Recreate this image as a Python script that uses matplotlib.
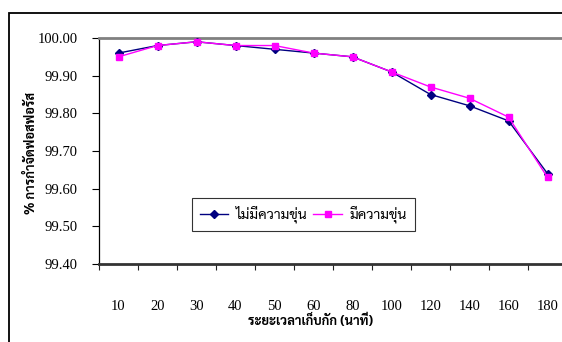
import matplotlib
matplotlib.use('Agg')
import matplotlib.pyplot as plt
from matplotlib.patches import Rectangle

# detention time (minutes) and phosphorus removal (%)
times = ['10', '20', '30', '40', '50', '60', '80', '100', '120', '140', '160', '180']
no_turbidity = [99.96, 99.98, 99.99, 99.98, 99.97, 99.96, 99.95, 99.91, 99.85, 99.82, 99.78, 99.64]
turbidity = [99.95, 99.98, 99.99, 99.98, 99.98, 99.96, 99.95, 99.91, 99.87, 99.84, 99.79, 99.63]
y_ticks = [99.40, 99.50, 99.60, 99.70, 99.80, 99.90, 100.00]

num_font = 'Liberation Serif'
thai_font = ['Sarabun', 'DejaVu Sans']

fig = plt.figure(figsize=(5.62, 3.42), dpi=100)
ax = fig.add_axes([99 / 562, 1 - 264 / 342, 468 / 562, 226 / 342])

x = list(range(len(times)))
ax.plot(x, no_turbidity, color='#000080', marker='D', markersize=4.5, lw=1,
        label='ไม่มีความขุ่น', zorder=3)
ax.plot(x, turbidity, color='#FF00FF', marker='s', markersize=5, lw=1,
        label='มีความขุ่น', zorder=4)

ax.set_xlim(-0.5, len(times) - 0.5)
ax.set_ylim(99.40, 100.00)

# category ticks sit between the labels
ax.set_xticks([i - 0.5 for i in range(len(times) + 1)])
ax.set_xticklabels([])
ax.set_xticks(x, minor=True)
ax.set_xticklabels(times, minor=True, fontfamily=num_font, fontsize=10.5)
ax.tick_params(axis='x', which='major', direction='out', length=4.5, width=0.8, color='#222222')
ax.tick_params(axis='x', which='minor', length=0, pad=26)

ax.set_yticks(y_ticks)
ax.set_yticklabels(['%.2f' % v for v in y_ticks], fontfamily=num_font, fontsize=10.5)
ax.tick_params(axis='y', direction='out', length=5, width=0.8, pad=10.5)

ax.spines['right'].set_visible(False)
ax.spines['top'].set_color('#808080')
ax.spines['top'].set_linewidth(2)
ax.spines['bottom'].set_color('#333333')
ax.spines['bottom'].set_linewidth(2)
ax.spines['left'].set_color('black')
ax.spines['left'].set_linewidth(0.9)

leg = ax.legend(loc='upper left', bbox_to_anchor=(192 / 562, 1 - 198 / 342),
                bbox_transform=fig.transFigure, ncol=2, frameon=True, fancybox=False,
                prop={'family': thai_font, 'size': 10.2}, handlelength=2.0,
                columnspacing=0.4, handletextpad=0.55, borderpad=0.55, borderaxespad=0)
leg.get_frame().set_edgecolor('black')
leg.get_frame().set_linewidth(0.8)

fig.text(31 / 562, 1 - 153 / 342, '% การกำจัดฟอสฟอรัส', rotation=90, ha='center', va='center',
         fontfamily=thai_font, fontweight='bold', fontsize=9.3)
fig.text(311 / 562, 1 - 321 / 342, 'ระยะเวลาเก็บกัก (นาที)', ha='center', va='center',
         fontfamily=thai_font, fontweight='bold', fontsize=9.3)

# chart frame
fig.add_artist(Rectangle((8.5 / 562, -0.1), 1.2, 1.1 - 12.7 / 342, transform=fig.transFigure,
                         fill=False, edgecolor='black', lw=1.3))

fig.savefig('out.png', dpi=100)
